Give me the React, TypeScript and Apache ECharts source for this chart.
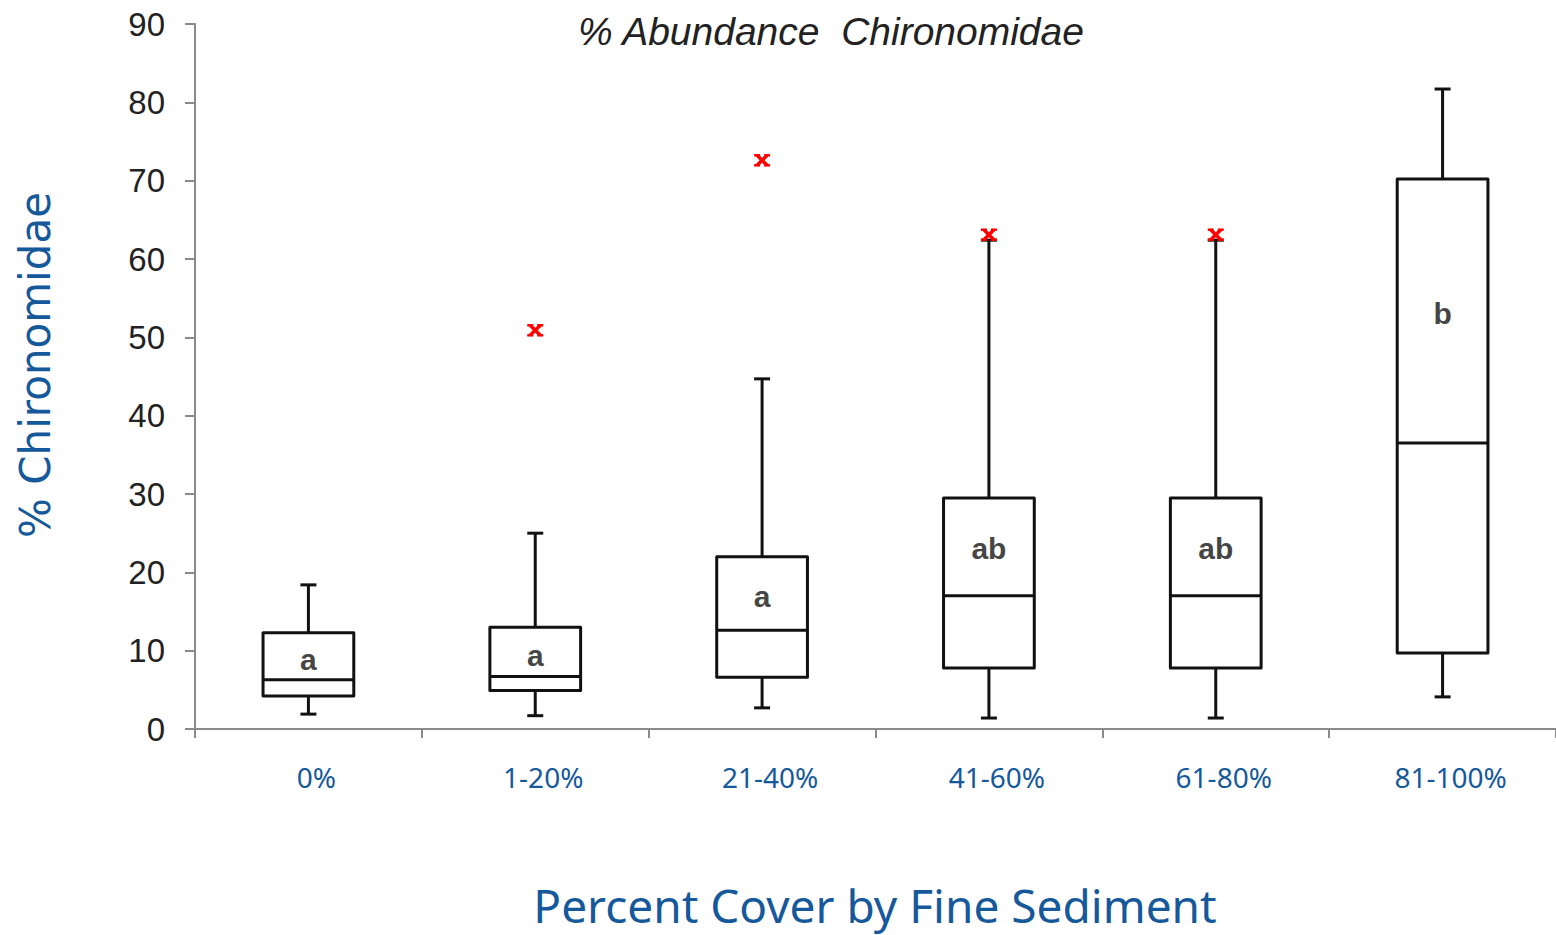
import React, { useEffect, useRef } from "react";
import * as echarts from "echarts";

const categories = ["0%", "1-20%", "21-40%", "41-60%", "61-80%", "81-100%"];
const whiskerLow = [1.9, 1.7, 2.7, 1.4, 1.4, 4.1];
const q1 = [4.2, 4.9, 6.6, 7.8, 7.8, 9.7];
const median = [6.3, 6.7, 12.6, 17.0, 17.0, 36.5];
const q3 = [12.3, 13.0, 22.0, 29.5, 29.5, 70.2];
const whiskerHigh = [18.4, 25.0, 44.7, 62.4, 62.4, 81.7];
const outliers: [number, number][] = [
  [1, 50.9],
  [2, 72.6],
  [3, 63.1],
  [4, 63.1],
];
const groupLetters = ["a", "a", "a", "ab", "ab", "b"];
const letterY = [8.9, 9.4, 16.9, 23.0, 23.0, 53.1];
const yTicks = { min: 0, max: 90, interval: 10 };

const INK = "#111111";
const BLUE = "#16599b";
const AXIS = "#8a8a8a";

export default function App() {
  const ref = useRef<HTMLDivElement>(null);

  useEffect(() => {
    if (!ref.current) return;
    const chart = echarts.init(ref.current, undefined, { renderer: "svg" });

    const boxData = categories.map((_, i) => [
      i,
      whiskerLow[i],
      q1[i],
      median[i],
      q3[i],
      whiskerHigh[i],
    ]);

    const option: any = {
      animation: false,
      backgroundColor: "#ffffff",
      grid: { left: 195, right: 0, top: 24, bottom: 206 },
      xAxis: {
        type: "category",
        data: categories,
        boundaryGap: true,
        axisLine: { show: true, lineStyle: { color: AXIS, width: 2 } },
        axisTick: { show: true, length: 9, alignWithLabel: false, lineStyle: { color: AXIS, width: 2 } },
        axisLabel: {
          color: BLUE,
          fontFamily: "Noto Sans",
          fontSize: 28,
          margin: 34,
          padding: [0, 0, 0, 16],
        },
        splitLine: { show: false },
      },
      yAxis: {
        type: "value",
        min: yTicks.min,
        max: yTicks.max,
        interval: yTicks.interval,
        axisLine: { show: true, lineStyle: { color: AXIS, width: 2 } },
        axisTick: { show: true, inside: false, length: 10, lineStyle: { color: AXIS, width: 2 } },
        axisLabel: {
          color: "#222222",
          fontFamily: "Liberation Sans",
          fontSize: 33,
          margin: 30,
        },
        splitLine: { show: false },
      },
      graphic: [
        {
          type: "text",
          x: 831,
          y: 31,
          style: {
            text: "% Abundance  Chironomidae",
            fill: "#222222",
            font: "italic 39px 'Liberation Sans'",
            textAlign: "center",
            textVerticalAlign: "middle",
          },
        },
        {
          type: "text",
          x: 875,
          y: 905,
          style: {
            text: "Percent Cover by Fine Sediment",
            fill: BLUE,
            font: "46px 'Noto Sans'",
            textAlign: "center",
            textVerticalAlign: "middle",
          },
        },
        {
          type: "text",
          x: 35,
          y: 365,
          rotation: Math.PI / 2,
          style: {
            text: "% Chironomidae",
            fill: BLUE,
            font: "42px 'DejaVu Sans'",
            textAlign: "center",
            textVerticalAlign: "middle",
          },
        },
      ],
      series: [
        {
          type: "custom",
          data: boxData,
          z: 3,
          renderItem: (params: any, api: any) => {
            const idx = api.value(0);
            const band = api.size([1, 0])[0];
            const half = band * 0.2;
            const cap = 8;
            const [cx, yLow] = api.coord([idx, api.value(1)]);
            const yQ1 = api.coord([idx, api.value(2)])[1];
            const yMed = api.coord([idx, api.value(3)])[1];
            const yQ3 = api.coord([idx, api.value(4)])[1];
            const yHigh = api.coord([idx, api.value(5)])[1];
            const st = { stroke: INK, lineWidth: 3, fill: "none" };
            return {
              type: "group",
              children: [
                { type: "line", shape: { x1: cx, y1: yQ3, x2: cx, y2: yHigh }, style: st },
                { type: "line", shape: { x1: cx - cap, y1: yHigh, x2: cx + cap, y2: yHigh }, style: st },
                { type: "line", shape: { x1: cx, y1: yQ1, x2: cx, y2: yLow }, style: st },
                { type: "line", shape: { x1: cx - cap, y1: yLow, x2: cx + cap, y2: yLow }, style: st },
                {
                  type: "rect",
                  shape: { x: cx - half, y: yQ3, width: half * 2, height: yQ1 - yQ3 },
                  style: { stroke: INK, lineWidth: 3, fill: "#ffffff", lineJoin: "round" },
                },
                { type: "line", shape: { x1: cx - half, y1: yMed, x2: cx + half, y2: yMed }, style: st },
              ],
            };
          },
        },
        {
          type: "custom",
          data: outliers,
          z: 4,
          renderItem: (params: any, api: any) => {
            const [x, y] = api.coord([api.value(0), api.value(1)]);
            const s = 5;
            const w = 3;
            const st = { stroke: "#ff0000", lineWidth: 3.5, fill: "none" };
            const ends = [
              [x - s, y - s],
              [x + s, y - s],
              [x - s, y + s],
              [x + s, y + s],
            ];
            return {
              type: "group",
              children: [
                { type: "line", shape: { x1: x - s, y1: y - s, x2: x + s, y2: y + s }, style: st },
                { type: "line", shape: { x1: x - s, y1: y + s, x2: x + s, y2: y - s }, style: st },
                ...ends.map(([ex, ey]) => ({
                  type: "line",
                  shape: { x1: ex - w, y1: ey, x2: ex + w, y2: ey },
                  style: { stroke: "#ff0000", lineWidth: 2.5, fill: "none" },
                })),
              ],
            };
          },
        },
        {
          type: "scatter",
          data: letterY.map((v, i) => [i, v]),
          symbolSize: 0,
          z: 5,
          silent: true,
          label: {
            show: true,
            position: "inside",
            formatter: (p: any) => groupLetters[p.dataIndex],
            color: INK,
            textBorderWidth: 0,
            textBorderColor: "transparent",
            fontFamily: "Liberation Sans",
            fontWeight: "bold",
            fontSize: 30,
          },
        },
      ],
    };

    chart.setOption(option);
    return () => chart.dispose();
  }, []);

  return (
    <div
      ref={ref}
      style={{ position: "absolute", left: 0, top: 0, width: 1556, height: 935, background: "#fff" }}
    />
  );
}
